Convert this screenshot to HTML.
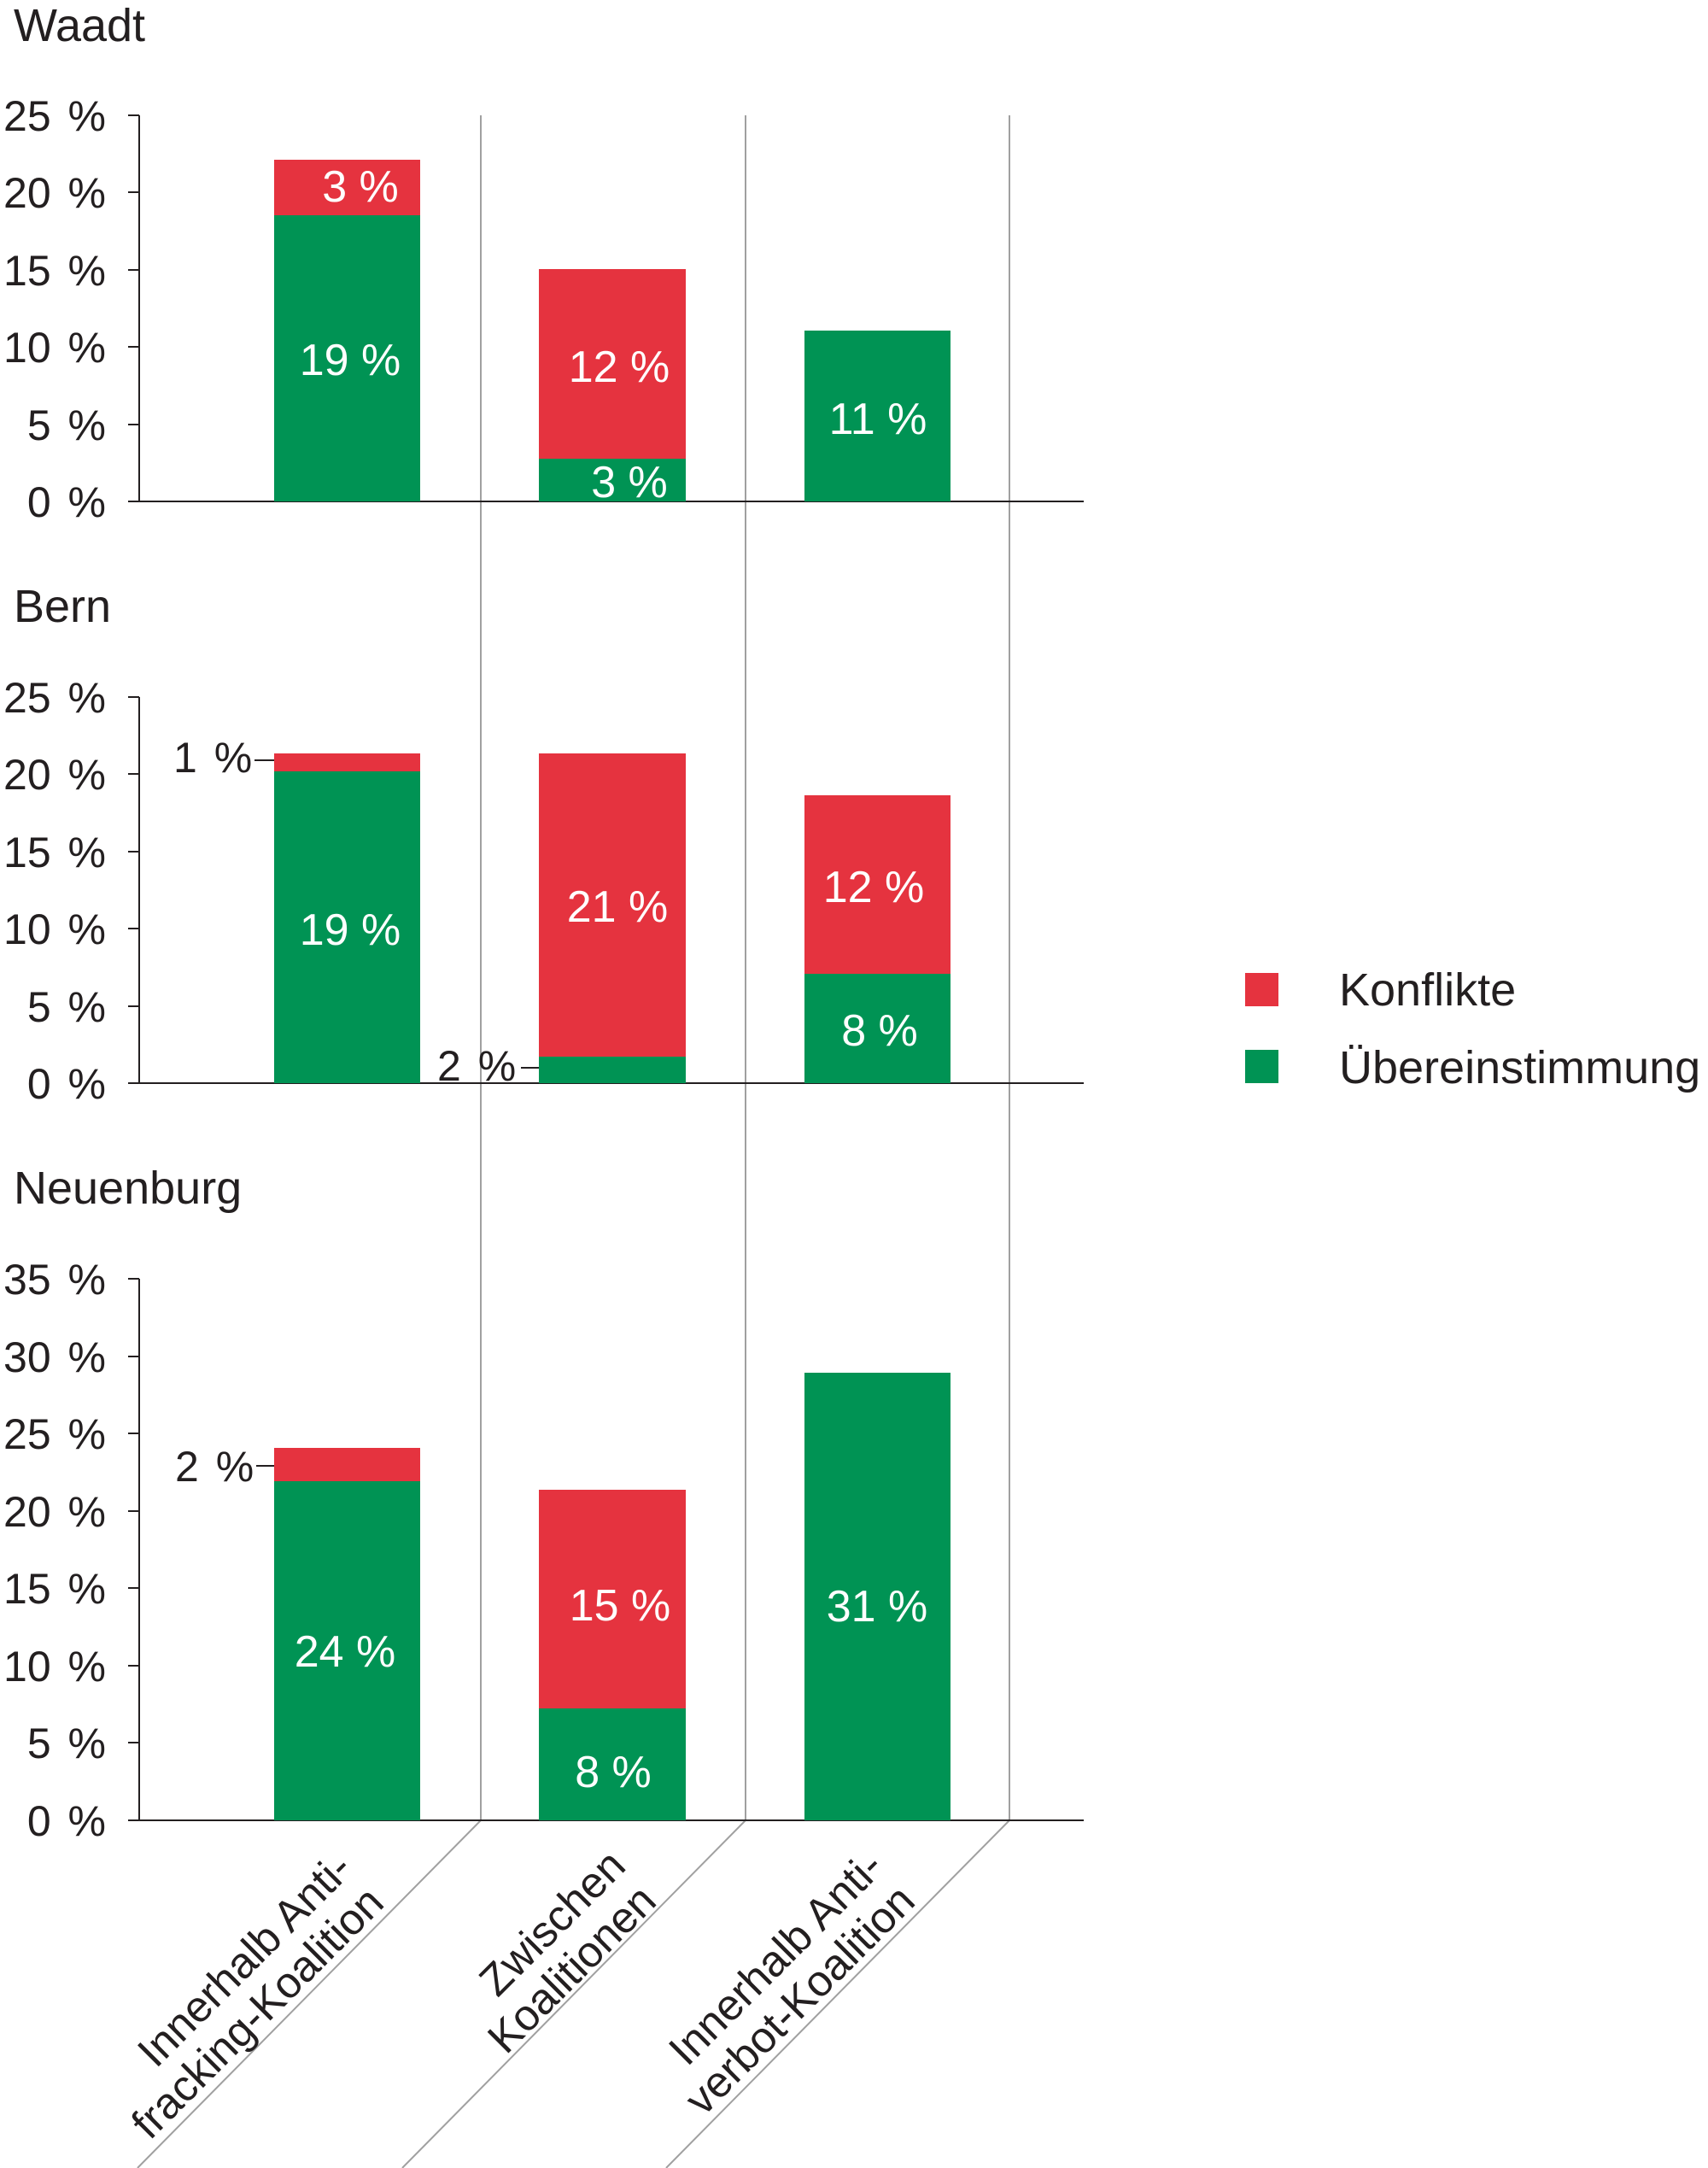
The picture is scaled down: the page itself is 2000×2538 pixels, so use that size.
<!DOCTYPE html>
<html><head><meta charset="utf-8"><style>
html,body{margin:0;padding:0;background:#fff}
svg{display:block}
text{font-family:"Liberation Sans Narrow","Liberation Sans",sans-serif;fill:#231f20}
.t{font-size:50px}
.r{font-size:51px}
.l{font-size:54px}
.w{fill:#fff;font-size:52px;text-anchor:middle}
.h{font-size:54px;font-family:"Liberation Sans",sans-serif}
</style></head><body>
<svg width="2000" height="2538" viewBox="0 0 2000 2538" xmlns="http://www.w3.org/2000/svg">
<g stroke="#a0a0a0" stroke-width="2" fill="none">
<line x1="563" y1="135" x2="563" y2="2131"/>
<line x1="873" y1="135" x2="873" y2="2131"/>
<line x1="1182" y1="135" x2="1182" y2="2131"/>
<line x1="563" y1="2131" x2="161" y2="2538"/>
<line x1="873" y1="2131" x2="471" y2="2538"/>
<line x1="1182" y1="2131" x2="780" y2="2538"/>
</g>
<text class="h" x="16" y="48">Waadt</text>
<text class="h" x="16" y="728">Bern</text>
<text class="h" x="16" y="1409">Neuenburg</text>

<g stroke="#231f20" stroke-width="2">
<line x1="163" y1="135" x2="163" y2="587"/>
<line x1="150" y1="587" x2="1269" y2="587"/>
<line x1="150" y1="135" x2="163" y2="135"/><line x1="150" y1="225" x2="163" y2="225"/>
<line x1="150" y1="316" x2="163" y2="316"/><line x1="150" y1="406" x2="163" y2="406"/>
<line x1="150" y1="497" x2="163" y2="497"/>
</g>
<g class="t" text-anchor="end" word-spacing="6">
<text x="124" y="153">25 %</text><text x="124" y="243">20 %</text><text x="124" y="334">15 %</text>
<text x="124" y="424">10 %</text><text x="124" y="515">5 %</text><text x="124" y="605">0 %</text>
</g>
<rect x="321" y="252" width="171" height="335" fill="#009354"/>
<rect x="321" y="187" width="171" height="65" fill="#e5333f"/>
<rect x="631" y="537" width="172" height="50" fill="#009354"/>
<rect x="631" y="315" width="172" height="222" fill="#e5333f"/>
<rect x="942" y="387" width="171" height="200" fill="#009354"/>
<text class="w" x="422" y="236">3 %</text>
<text class="w" x="410" y="439">19 %</text>
<text class="w" x="725" y="447">12 %</text>
<text class="w" x="737" y="582">3 %</text>
<text class="w" x="1028" y="508">11 %</text>

<g stroke="#231f20" stroke-width="2">
<line x1="163" y1="816" x2="163" y2="1268"/>
<line x1="150" y1="1268" x2="1269" y2="1268"/>
<line x1="150" y1="816" x2="163" y2="816"/><line x1="150" y1="906" x2="163" y2="906"/>
<line x1="150" y1="997" x2="163" y2="997"/><line x1="150" y1="1087" x2="163" y2="1087"/>
<line x1="150" y1="1178" x2="163" y2="1178"/>
<line x1="298" y1="890" x2="321" y2="890"/>
<line x1="610" y1="1250" x2="631" y2="1250"/>
</g>
<g class="t" text-anchor="end" word-spacing="6">
<text x="124" y="834">25 %</text><text x="124" y="924">20 %</text><text x="124" y="1015">15 %</text>
<text x="124" y="1105">10 %</text><text x="124" y="1196">5 %</text><text x="124" y="1286">0 %</text>
</g>
<rect x="321" y="903" width="171" height="365" fill="#009354"/>
<rect x="321" y="882" width="171" height="21" fill="#e5333f"/>
<rect x="631" y="1237" width="172" height="31" fill="#009354"/>
<rect x="631" y="882" width="172" height="355" fill="#e5333f"/>
<rect x="942" y="1140" width="171" height="128" fill="#009354"/>
<rect x="942" y="931" width="171" height="209" fill="#e5333f"/>
<text class="t" x="203" y="904" word-spacing="6">1 %</text>
<text class="t" x="512" y="1265" word-spacing="6">2 %</text>
<text class="w" x="410" y="1106">19 %</text>
<text class="w" x="723" y="1079">21 %</text>
<text class="w" x="1023" y="1056">12 %</text>
<text class="w" x="1030" y="1224">8 %</text>

<g stroke="#231f20" stroke-width="2">
<line x1="163" y1="1497" x2="163" y2="2131"/>
<line x1="150" y1="2131" x2="1269" y2="2131"/>
<line x1="150" y1="1497" x2="163" y2="1497"/><line x1="150" y1="1588" x2="163" y2="1588"/>
<line x1="150" y1="1678" x2="163" y2="1678"/><line x1="150" y1="1769" x2="163" y2="1769"/>
<line x1="150" y1="1859" x2="163" y2="1859"/><line x1="150" y1="1950" x2="163" y2="1950"/>
<line x1="150" y1="2040" x2="163" y2="2040"/>
<line x1="300" y1="1716" x2="321" y2="1716"/>
</g>
<g class="t" text-anchor="end" word-spacing="6">
<text x="124" y="1515">35 %</text><text x="124" y="1606">30 %</text><text x="124" y="1696">25 %</text>
<text x="124" y="1787">20 %</text><text x="124" y="1877">15 %</text><text x="124" y="1968">10 %</text>
<text x="124" y="2058">5 %</text><text x="124" y="2149">0 %</text>
</g>
<rect x="321" y="1734" width="171" height="397" fill="#009354"/>
<rect x="321" y="1695" width="171" height="39" fill="#e5333f"/>
<rect x="631" y="2000" width="172" height="131" fill="#009354"/>
<rect x="631" y="1744" width="172" height="256" fill="#e5333f"/>
<rect x="942" y="1607" width="171" height="524" fill="#009354"/>
<text class="t" x="205" y="1734" word-spacing="6">2 %</text>
<text class="w" x="404" y="1951">24 %</text>
<text class="w" x="726" y="1897">15 %</text>
<text class="w" x="718" y="2092">8 %</text>
<text class="w" x="1027" y="1898">31 %</text>

<g class="r" text-anchor="end">
<text transform="translate(415,2190) rotate(-45)">Innerhalb Anti-</text>
<text transform="translate(452,2230) rotate(-45)">fracking-Koalition</text>
<text transform="translate(735,2187) rotate(-45)">Zwischen</text>
<text transform="translate(771,2228) rotate(-45)">Koalitionen</text>
<text transform="translate(1037,2188) rotate(-45)">Innerhalb Anti-</text>
<text transform="translate(1074,2228) rotate(-45)">verbot-Koalition</text>
</g>

<rect x="1458" y="1139" width="39" height="39" fill="#e5333f"/>
<rect x="1458" y="1229" width="39" height="39" fill="#009354"/>
<text class="l" x="1568" y="1177">Konflikte</text>
<text class="l" x="1568" y="1268">Übereinstimmung</text>
</svg>
</body></html>
